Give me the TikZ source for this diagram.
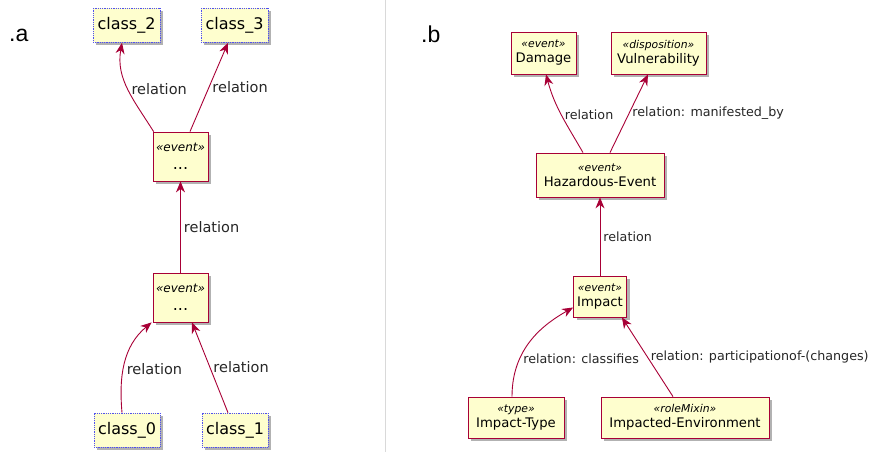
\documentclass[tikz,border=0pt]{standalone}
\usepackage{fontspec}
\setmainfont{DejaVu Sans}
\newfontfamily\panelfont{Liberation Sans}
\usetikzlibrary{arrows.meta,shadows}

\definecolor{umlred}{HTML}{A80036}
\definecolor{umlyellow}{HTML}{FEFECE}
\definecolor{umlblue}{HTML}{5050F0}

\newcommand{\stereo}[2]{{\fontsize{#1}{#1}\selectfont\itshape #2}}
\newcommand{\bigtxt}{\fontsize{16}{18}\selectfont}
\newcommand{\smalltxt}{\fontsize{13.2}{15}\selectfont}

\tikzset{
  umlbox/.style={draw=umlred, fill=umlyellow, line width=0.8pt, inner sep=0pt, align=center,
    drop shadow={shadow xshift=3pt, shadow yshift=-3pt, opacity=0.3, fill=black}},
  plainbox/.style={umlbox, draw=umlblue, densely dotted, line width=0.6pt},
  rel/.style={draw=umlred, line width=0.9pt, -{Stealth[length=11pt,width=9pt,inset=3.5pt]}},
  lbl/.style={right, inner sep=3pt, text=black!85},
}

\begin{document}
\begin{tikzpicture}[x=1pt,y=1pt]
\useasboundingbox (0,0) rectangle (879,452);

\draw[black!15, line width=1.5pt] (385.7,0) -- (385.7,452);
\node[anchor=base west, inner sep=0, font=\panelfont\fontsize{23}{25}\selectfont] (tagA) at (9,410) {.a};
\node[anchor=base west, inner sep=0, font=\panelfont\fontsize{23}{25}\selectfont] (tagB) at (421,409) {.b};

% panel a
\node[plainbox, minimum width=67, minimum height=34, font=\bigtxt] (cls2) at (126.5,426.5) {class\_2};
\node[plainbox, minimum width=67, minimum height=34, font=\bigtxt] (cls3) at (234.5,426.5) {class\_3};
\node[umlbox, minimum width=55, minimum height=49, font=\bigtxt] (evtop) at (180.5,295.5) {\stereo{12}{«event»}\\...};
\node[umlbox, minimum width=55, minimum height=49, font=\bigtxt] (evbot) at (180.5,154.5) {\stereo{12}{«event»}\\...};
\node[plainbox, minimum width=66, minimum height=34, font=\bigtxt] (cls0) at (127,22) {class\_0};
\node[plainbox, minimum width=66, minimum height=34, font=\bigtxt] (cls1) at (235,22) {class\_1};

\begin{scope}[every node/.style={font=\fontsize{14.5}{16}\selectfont}]
\draw[rel] ([xshift=1pt]evtop.north west) to[out=122,in=-100] node[lbl,pos=0.5] {relation} ([xshift=-4.5pt]cls2.south);
\draw[rel] ([xshift=9.5pt]evtop.north) -- node[lbl] {relation} ([xshift=-6.5pt]cls3.south);
\draw[rel] (evbot.north) -- node[lbl] {relation} (evtop.south);
\draw[rel] ([xshift=-5pt]cls0.north) to[out=95,in=-140] node[lbl,pos=0.43] {relation} ([xshift=-1pt]evbot.south west);
\draw[rel] ([xshift=-7pt]cls1.north) -- node[lbl] {relation} ([xshift=11.5pt]evbot.south);
\end{scope}

% panel b
\node[umlbox, minimum width=65, minimum height=42, font=\smalltxt] (dmg) at (543.5,399) {\stereo{10.8}{«event»}\\Damage};
\node[umlbox, minimum width=95, minimum height=42, font=\smalltxt] (vul) at (658.5,399) {\stereo{10.8}{«disposition»}\\Vulnerability};
\node[umlbox, minimum width=128, minimum height=44, font=\smalltxt] (haz) at (600,277) {\stereo{10.8}{«event»}\\Hazardous-Event};
\node[umlbox, minimum width=53, minimum height=41, font=\smalltxt] (imp) at (600,155.5) {\stereo{10.8}{«event»}\\Impact};
\node[umlbox, minimum width=96, minimum height=41, font=\smalltxt] (itype) at (516,34.5) {\stereo{10.8}{«type»}\\Impact-Type};
\node[umlbox, minimum width=168, minimum height=41, font=\smalltxt] (ienv) at (685,34.5) {\stereo{10.8}{«roleMixin»}\\Impacted-Environment};

\begin{scope}[every node/.style={font=\fontsize{12.7}{14}\selectfont}]
\draw[rel] ([xshift=-17pt]haz.north) to[out=120,in=-75] node[lbl,pos=0.5] {relation} ([xshift=2.5pt]dmg.south);
\draw[rel] ([xshift=10pt]haz.north) -- node[lbl] {relation: manifested\_by} ([xshift=-10.5pt]vul.south);
\draw[rel] (imp.north) -- node[lbl] {relation} (haz.south);
\draw[rel] ([xshift=-4pt]itype.north) .. controls +(0,50) and +(-28,-16) .. node[lbl,pos=0.3] {relation: classifies} ([yshift=-11pt]imp.west);
\draw[rel] ([xshift=-12pt]ienv.north) -- node[lbl] {relation: participationof-(changes)} ([xshift=-5pt]imp.south east);
\end{scope}
\end{tikzpicture}
\end{document}
